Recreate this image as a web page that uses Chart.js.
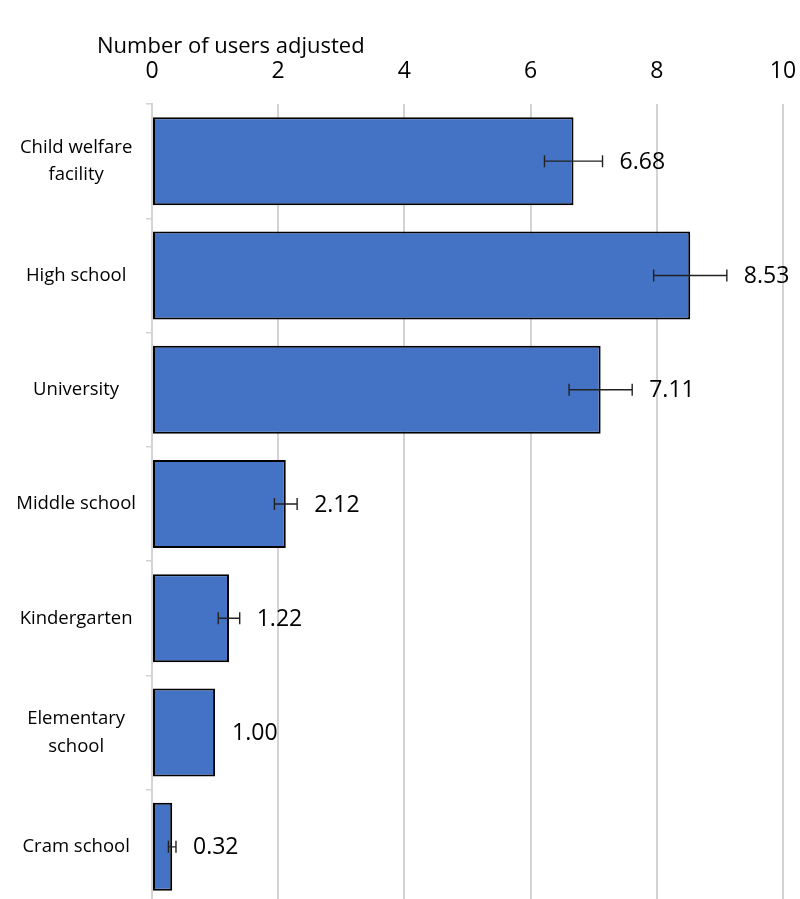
<!DOCTYPE html>
<html>
<head>
<meta charset="utf-8">
<script src="https://cdn.jsdelivr.net/npm/chart.js@4/dist/chart.umd.min.js"></script>
<style>
  html, body { margin: 0; padding: 0; background: #fff; overflow: hidden; }
  canvas { display: block; }
</style>
</head>
<body>
<canvas id="chart" width="800" height="904"></canvas>
<script>
const categories = [
  ['Child welfare', 'facility'],
  'High school',
  'University',
  'Middle school',
  'Kindergarten',
  ['Elementary', 'school'],
  'Cram school'
];
const values = [6.68, 8.53, 7.11, 2.12, 1.22, 1.00, 0.32];
const errors = [0.46, 0.58, 0.5, 0.18, 0.17, 0, 0.06];
const xTicks = [0, 2, 4, 6, 8, 10];
const axisTitle = 'Number of users adjusted';

const FONT = '"Open Sans", sans-serif';

// error bars, value labels and the axis title
const extras = {
  id: 'extras',
  afterDatasetsDraw(chart) {
    const ctx = chart.ctx;
    const x = chart.scales.x;
    const meta = chart.getDatasetMeta(0);
    ctx.save();
    meta.data.forEach((bar, i) => {
      const y = bar.y;
      const lo = x.getPixelForValue(values[i] - errors[i]);
      const hi = x.getPixelForValue(values[i] + errors[i]);
      if (errors[i] > 0) {
        ctx.strokeStyle = '#222';
        ctx.lineWidth = 1.4;
        ctx.beginPath();
        ctx.moveTo(lo, y); ctx.lineTo(hi, y);
        ctx.moveTo(lo, y - 6); ctx.lineTo(lo, y + 6);
        ctx.moveTo(hi, y - 6); ctx.lineTo(hi, y + 6);
        ctx.stroke();
      }
      ctx.fillStyle = '#000';
      ctx.font = '23px ' + FONT;
      ctx.textAlign = 'left';
      ctx.textBaseline = 'middle';
      ctx.fillText(values[i].toFixed(2), hi + 17, y + 1);
    });
    ctx.font = '22px ' + FONT;
    ctx.fillStyle = '#000';
    ctx.textAlign = 'left';
    ctx.textBaseline = 'middle';
    ctx.fillText(axisTitle, 97, 47);
    ctx.restore();
  }
};

new Chart(document.getElementById('chart'), {
  type: 'bar',
  data: {
    labels: categories,
    datasets: [{
      data: values,
      backgroundColor: '#4472C4',
      borderColor: '#000',
      borderWidth: 2,
      borderSkipped: false,
      barPercentage: 0.77,
      categoryPercentage: 1
    }]
  },
  options: {
    indexAxis: 'y',
    responsive: false,
    animation: false,
    layout: { padding: { top: 0, right: 17, bottom: 0, left: 0 } },
    plugins: { legend: { display: false }, tooltip: { enabled: false } },
    scales: {
      x: {
        position: 'top',
        min: 0,
        max: 10,
        afterBuildTicks: (s) => { s.ticks = xTicks.map((v) => ({ value: v })); },
        afterFit: (s) => { s.height = 104; s.paddingLeft = 0; s.paddingRight = 0; },
        ticks: { color: '#000', font: { family: FONT, size: 23 }, padding: 19 },
        grid: { color: '#d3d3d3', lineWidth: 2, drawTicks: false },
        border: { display: false }
      },
      y: {
        afterFit: (s) => { s.width = 152; s.paddingTop = 0; s.paddingBottom = 0; },
        ticks: {
          color: '#000',
          font: { family: FONT, size: 18.5, lineHeight: 1.5 },
          crossAlign: 'center',
          padding: 10,
          autoSkip: false
        },
        grid: { offset: true, drawOnChartArea: false, tickLength: 6, color: '#d3d3d3', lineWidth: 1.5 },
        border: { color: '#d3d3d3', width: 2 }
      }
    }
  },
  plugins: [extras]
});
</script>
</body>
</html>
